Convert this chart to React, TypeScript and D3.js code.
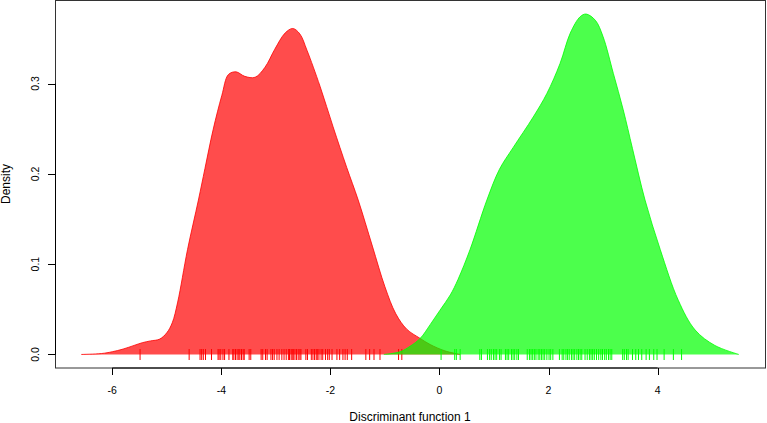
import React from "react";
import * as d3 from "d3";

// Density curve of group 1 (red): [x, density]
const redX = [-6.57, -6.2, -6.0, -5.8, -5.6, -5.45, -5.3, -5.13, -5.0, -4.9, -4.8, -4.62, -4.42, -4.30, -4.15, -3.99, -3.87, -3.73, -3.57, -3.38, -3.20, -3.02, -2.83, -2.69, -2.56, -2.43, -2.19, -1.95, -1.70, -1.49, -1.23, -1.0, -0.8, -0.6, -0.36, -0.17, 0.10, 0.38];
const redD = [0, 0.001, 0.003, 0.006, 0.01, 0.013, 0.015, 0.017, 0.024, 0.035, 0.058, 0.116, 0.171, 0.206, 0.249, 0.287, 0.31, 0.313, 0.308, 0.307, 0.318, 0.338, 0.356, 0.361, 0.355, 0.337, 0.297, 0.252, 0.207, 0.171, 0.12, 0.075, 0.045, 0.028, 0.018, 0.011, 0.004, 0];

// Density curve of group 2 (green)
const greenX = [-1.02, -0.72, -0.54, -0.35, -0.17, 0.01, 0.20, 0.34, 0.56, 0.87, 1.10, 1.35, 1.72, 1.97, 2.21, 2.40, 2.58, 2.69, 2.86, 3.00, 3.19, 3.37, 3.54, 3.77, 4.05, 4.38, 4.69, 5.05, 5.49];
const greenD = [0, 0.003, 0.009, 0.018, 0.033, 0.049, 0.066, 0.083, 0.116, 0.171, 0.205, 0.229, 0.263, 0.289, 0.322, 0.356, 0.374, 0.377, 0.370, 0.352, 0.311, 0.271, 0.228, 0.171, 0.116, 0.06, 0.027, 0.01, 0];

// Rug (individual scores)
const redRug = [-5.49, -4.59, -4.39, -4.36, -4.33, -4.29, -4.18, -4.06, -4.04, -4.01, -3.97, -3.94, -3.86, -3.79, -3.77, -3.74, -3.71, -3.68, -3.66, -3.63, -3.60, -3.58, -3.49, -3.46, -3.27, -3.24, -3.19, -3.16, -3.09, -3.06, -3.03, -2.98, -2.94, -2.89, -2.85, -2.81, -2.77, -2.75, -2.72, -2.70, -2.68, -2.65, -2.62, -2.59, -2.56, -2.54, -2.45, -2.42, -2.35, -2.32, -2.29, -2.26, -2.24, -2.21, -2.17, -2.14, -2.09, -2.05, -2.02, -1.97, -1.88, -1.83, -1.77, -1.73, -1.69, -1.61, -1.35, -1.28, -1.20, -1.09, -0.75, -0.69];
const greenRug = [0.03, 0.28, 0.31, 0.38, 0.74, 0.77, 0.88, 0.92, 0.95, 0.99, 1.02, 1.05, 1.10, 1.13, 1.21, 1.24, 1.27, 1.32, 1.35, 1.38, 1.42, 1.45, 1.61, 1.65, 1.68, 1.71, 1.74, 1.77, 1.81, 1.84, 1.87, 1.90, 1.93, 1.97, 2.01, 2.04, 2.08, 2.20, 2.25, 2.28, 2.32, 2.35, 2.38, 2.42, 2.45, 2.48, 2.52, 2.55, 2.58, 2.61, 2.67, 2.71, 2.75, 2.78, 2.81, 2.84, 2.88, 2.92, 2.96, 2.99, 3.03, 3.06, 3.10, 3.13, 3.16, 3.36, 3.39, 3.43, 3.46, 3.54, 3.60, 3.65, 3.71, 3.79, 3.85, 3.93, 3.99, 4.12, 4.29, 4.44];

const xTicks = [-6, -4, -2, 0, 2, 4];
const yTicks = [0, 0.1, 0.2, 0.3];
const xTitle = "Discriminant function 1";
const yTitle = "Density";

const W = 767;
const H = 423;
const FONT = "'Liberation Sans', Arial, Helvetica, sans-serif";

export default function App() {
  const x = d3.scaleLinear().domain([-7.05, 5.97]).range([55, 765]);
  const y = d3.scaleLinear().domain([-0.015, 0.392]).range([368, 0.5]);

  const curve = d3.curveCatmullRom.alpha(0.5);
  const area = d3
    .area<[number, number]>()
    .x((d) => x(d[0]))
    .y0(() => y(0))
    .y1((d) => Math.min(y(0), y(d[1])))
    .curve(curve);
  const line = d3
    .line<[number, number]>()
    .x((d) => x(d[0]))
    .y((d) => y(d[1]))
    .curve(curve);

  const redPts = redX.map((v, i) => [v, redD[i]] as [number, number]);
  const greenPts = greenX.map((v, i) => [v, greenD[i]] as [number, number]);

  const rugTop = 349;
  const rugBot = 360;

  return (
    <svg
      width={W}
      height={H}
      style={{ position: "absolute", left: 0, top: 0, background: "#fff" }}
      fontFamily={FONT}
    >
      <rect x={0} y={0} width={W} height={H} fill="#fff" />
      {/* red density */}
      <path d={area(redPts) || ""} fill="rgba(255,0,0,0.7)" stroke="none" />
      <path d={line(redPts) || ""} fill="none" stroke="rgba(255,0,0,0.8)" strokeWidth={1} />
      {redRug.map((v, i) => (
        <line key={"r" + i} x1={x(v)} x2={x(v)} y1={rugTop} y2={rugBot} stroke="#ff0000" strokeWidth={1} />
      ))}
      {/* green density */}
      <path d={area(greenPts) || ""} fill="rgba(0,255,0,0.7)" stroke="none" />
      <path d={line(greenPts) || ""} fill="none" stroke="rgba(0,255,0,0.8)" strokeWidth={1} />
      {greenRug.map((v, i) => (
        <line key={"g" + i} x1={x(v)} x2={x(v)} y1={rugTop} y2={rugBot} stroke="#00ff00" strokeWidth={1} />
      ))}

      {/* box */}
      <rect x={55.5} y={0.5} width={710} height={367.5} fill="none" stroke="#333" strokeWidth={1} />

      {/* x axis */}
      <line x1={x(-6)} x2={x(4)} y1={368} y2={368} stroke="#000" />
      {xTicks.map((t) => (
        <g key={"xt" + t}>
          <line x1={Math.round(x(t)) + 0.5} x2={Math.round(x(t)) + 0.5} y1={368} y2={375} stroke="#000" />
          <text x={x(t)} y={394} textAnchor="middle" fontSize={10.5} fill="#000">
            {t}
          </text>
        </g>
      ))}
      <text x={410} y={421} textAnchor="middle" fontSize={12} fill="#000">
        {xTitle}
      </text>

      {/* y axis */}
      <line x1={55.5} x2={55.5} y1={y(0)} y2={y(0.3)} stroke="#000" />
      {yTicks.map((t) => (
        <g key={"yt" + t}>
          <line x1={48} x2={55.5} y1={Math.round(y(t)) + 0.5} y2={Math.round(y(t)) + 0.5} stroke="#000" />
          <text
            transform={`translate(39,${y(t)}) rotate(-90)`}
            textAnchor="middle"
            fontSize={10.5}
            fill="#000"
          >
            {t.toFixed(1)}
          </text>
        </g>
      ))}
      <text transform={`translate(10,184) rotate(-90)`} textAnchor="middle" fontSize={12} fill="#000">
        {yTitle}
      </text>
    </svg>
  );
}
